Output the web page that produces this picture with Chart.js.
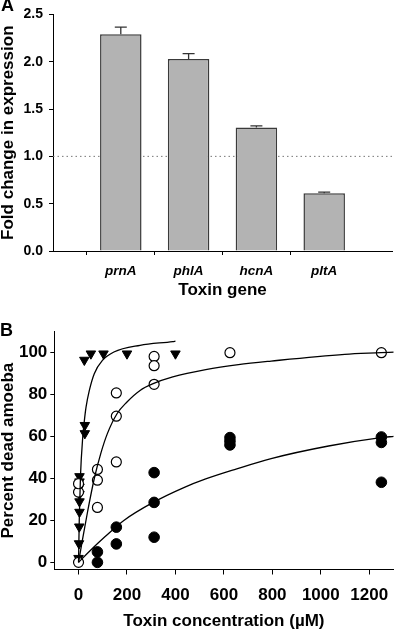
<!DOCTYPE html>
<html><head><meta charset="utf-8">
<script src="https://cdn.jsdelivr.net/npm/chart.js@4"></script>
<style>
html,body{margin:0;padding:0;background:#fff;}
#wrap{position:relative;width:400px;height:631px;overflow:hidden;background:#fff;}
#cA{position:absolute;left:0;top:0;}
#cB{position:absolute;left:0;top:300px;}
.pl{position:absolute;font:bold 18px "Liberation Sans",Arial,sans-serif;color:#000;line-height:18px;}
</style></head><body>
<div id="wrap">
<canvas id="cA" width="400" height="300"></canvas>
<canvas id="cB" width="400" height="331"></canvas>
<div class="pl" style="left:1px;top:-4px">A</div>
<div class="pl" style="left:0px;top:321px">B</div>
</div>
<script>
// ---------- Panel A data ----------
const genes = ['prnA', 'phlA', 'hcnA', 'pltA'];
const foldChange = [2.29, 2.03, 1.305, 0.61];
const foldErr = [0.075, 0.055, 0.018, 0.012];
const baselineValue = 1.0;
const foldTicks = [0, 0.5, 1.0, 1.5, 2.0, 2.5];

// ---------- Panel B data ----------
const triX = [0, 2, 3, 4, 4, 4, 4, 4, 4, 26, 26, 24, 51, 103, 200, 400];
const triY = [2, 9, 17, 24, 29, 32.5, 36, 38.5, 41, 61.5, 65.4, 96.5, 99.5, 99.5, 99.5, 99.5];
const openX = [0, 0, 0, 78, 78, 78, 156, 156, 156, 312, 312, 312, 625, 1250];
const openY = [0, 33.5, 37.5, 44.3, 39.2, 26.2, 80.8, 69.7, 47.9, 98.2, 93.8, 84.9, 100, 100];
const filledX = [78, 78, 156, 156, 312, 312, 312, 625, 625, 625, 1250, 1250, 1250];
const filledY = [5, 0, 16.8, 8.8, 42.8, 28.6, 12, 59.5, 57.8, 56, 59.8, 57.2, 38.2];
const triFitX = [0, 3, 8, 17.6, 24, 31, 44.6, 65, 98.6, 146, 254, 389, 400];
const triFitY = [0, 20, 41, 60, 67.5, 74, 82, 90, 96.3, 100.3, 103.5, 105.3, 105.5];
const openFitX = [0, 15, 37.9, 65, 92, 119, 159.5, 200, 254, 308, 389, 525, 660, 795, 1099, 1248, 1302];
const openFitY = [0, 10, 24.5, 40, 52, 61.4, 71, 76.5, 82, 85.2, 88.4, 91.9, 94.3, 96, 99.2, 100, 100.3];
const filledFitX = [0, 58, 110, 187, 308, 437, 525, 650, 795, 1032, 1248, 1302];
const filledFitY = [0, 6.7, 12.3, 20, 28.6, 35.8, 39.8, 44.5, 49.5, 55.5, 59.5, 60.1];
const concTicks = [0, 200, 400, 600, 800, 1000, 1200];
const deadTicks = [0, 20, 40, 60, 80, 100];

const FAM = '"Liberation Sans", Arial, Helvetica, sans-serif';
Chart.defaults.font.family = FAM;
Chart.defaults.color = '#000';

const pts = (xs, ys) => xs.map((x, i) => ({x: x, y: ys[i]}));

// ---------- Chart A ----------
const catLabels = [''].concat(genes, ['']);
const barData = [null].concat(foldChange, [null]);
const errData = [null].concat(foldErr, [null]);

const errorBars = {
  id: 'errorBars',
  afterDatasetsDraw(chart) {
    const meta = chart.getDatasetMeta(0);
    const ys = chart.scales.y;
    const ctx = chart.ctx;
    ctx.save();
    ctx.strokeStyle = '#333';
    ctx.lineWidth = 1.3;
    meta.data.forEach((el, i) => {
      const v = barData[i], e = errData[i];
      if (v == null) return;
      const y0 = ys.getPixelForValue(v), y1 = ys.getPixelForValue(v + e);
      ctx.beginPath();
      ctx.moveTo(el.x, y0); ctx.lineTo(el.x, y1);
      ctx.moveTo(el.x - 6, y1); ctx.lineTo(el.x + 6, y1);
      ctx.stroke();
    });
    ctx.restore();
  }
};

new Chart(document.getElementById('cA'), {
  type: 'bar',
  data: {
    labels: catLabels,
    datasets: [
      {
        type: 'bar', data: barData, order: 0,
        backgroundColor: '#b3b3b3', borderColor: '#3a3a3a', borderWidth: 1.5,
        borderSkipped: 'bottom', categoryPercentage: 1, barPercentage: 0.612
      },
      {
        type: 'line', data: catLabels.map(() => baselineValue), order: 1,
        borderColor: '#777', borderWidth: 1, borderDash: [1.5, 3],
        pointRadius: 0, fill: false
      }
    ]
  },
  options: {
    responsive: false, animation: false, devicePixelRatio: 1,
    layout: {padding: {top: 12, right: 4, left: 0, bottom: 0}},
    plugins: {legend: {display: false}, tooltip: {enabled: false}},
    scales: {
      x: {
        offset: false,
        afterFit: s => { s.height = 49; },
        grid: {drawOnChartArea: false, drawTicks: true, tickLength: 4,
               tickColor: c => (catLabels[c.index] ? '#000' : 'rgba(0,0,0,0)')},
        border: {display: true, color: '#000', width: 1},
        ticks: {autoSkip: false, maxRotation: 0, padding: 8,
                font: {size: 13.5, weight: 'bold', style: 'italic'}, color: '#000'},
        title: {display: true, text: 'Toxin gene', font: {size: 17, weight: 'bold', lineHeight: 1},
                padding: {top: 0, bottom: 1}, color: '#000'}
      },
      y: {
        min: 0, max: 2.5,
        afterFit: s => { s.width = 53; },
        afterBuildTicks: s => { s.ticks = foldTicks.map(v => ({value: v})); },
        grid: {drawOnChartArea: false, drawTicks: true, tickLength: 4, tickColor: '#000'},
        border: {display: true, color: '#000', width: 1},
        ticks: {padding: 6, callback: v => Number(v).toFixed(1),
                font: {size: 14, weight: 'bold'}, color: '#000'},
        title: {display: true, text: 'Fold change in expression', font: {size: 17, weight: 'bold', lineHeight: 1},
                padding: {top: 0, bottom: 0}, color: '#000'}
      }
    }
  },
  plugins: [errorBars]
});

// ---------- Chart B ----------
const lineStyle = {showLine: true, pointRadius: 0, borderColor: '#000', borderWidth: 1.3,
                   cubicInterpolationMode: 'monotone', fill: false};
new Chart(document.getElementById('cB'), {
  type: 'scatter',
  data: {
    datasets: [
      Object.assign({data: pts(triFitX, triFitY)}, lineStyle),
      Object.assign({data: pts(openFitX, openFitY)}, lineStyle),
      Object.assign({data: pts(filledFitX, filledFitY)}, lineStyle),
      {data: pts(openX, openY), pointStyle: 'circle', pointRadius: 5, pointBorderWidth: 1.2,
       pointBorderColor: '#000', pointBackgroundColor: '#fff', showLine: false},
      {data: pts(filledX, filledY), pointStyle: 'circle', pointRadius: 5.3, pointBorderWidth: 1,
       pointBorderColor: '#000', pointBackgroundColor: '#000', showLine: false},
      {data: pts(triX, triY), pointStyle: 'triangle', rotation: 180, pointRotation: 180, pointRadius: 5.5,
       pointBorderWidth: 1, pointBorderColor: '#000', pointBackgroundColor: '#000', showLine: false}
    ]
  },
  options: {
    responsive: false, animation: false, devicePixelRatio: 1,
    layout: {padding: {top: 31.7, right: 0.5, left: 0, bottom: 0}},
    plugins: {legend: {display: false}, tooltip: {enabled: false}},
    scales: {
      x: {
        type: 'linear', min: -100, max: 1300,
        afterFit: s => { s.height = 61.5; },
        afterBuildTicks: s => { s.ticks = concTicks.map(v => ({value: v})); },
        grid: {drawOnChartArea: false, drawTicks: true, tickLength: 5, tickColor: '#000'},
        border: {display: true, color: '#000', width: 1},
        ticks: {padding: 11, maxRotation: 0, autoSkip: false, callback: v => String(v),
                font: {size: 17, weight: 'bold'}, color: '#000'},
        title: {display: true, text: 'Toxin concentration (\u00B5M)', font: {size: 17, weight: 'bold', lineHeight: 1},
                padding: {top: 0, bottom: 1.5}, color: '#000'}
      },
      y: {
        type: 'linear', min: -3.4, max: 110,
        afterFit: s => { s.width = 54.3; },
        afterBuildTicks: s => { s.ticks = deadTicks.map(v => ({value: v})); },
        grid: {drawOnChartArea: false, drawTicks: true, tickLength: 4, tickColor: '#000'},
        border: {display: true, color: '#000', width: 1},
        ticks: {padding: 3, callback: v => String(v),
                font: {size: 17, weight: 'bold'}, color: '#000'},
        title: {display: true, text: 'Percent dead amoeba', font: {size: 17, weight: 'bold', lineHeight: 1},
                padding: {top: 0, bottom: 0}, color: '#000'}
      }
    }
  }
});
</script>
</body></html>
